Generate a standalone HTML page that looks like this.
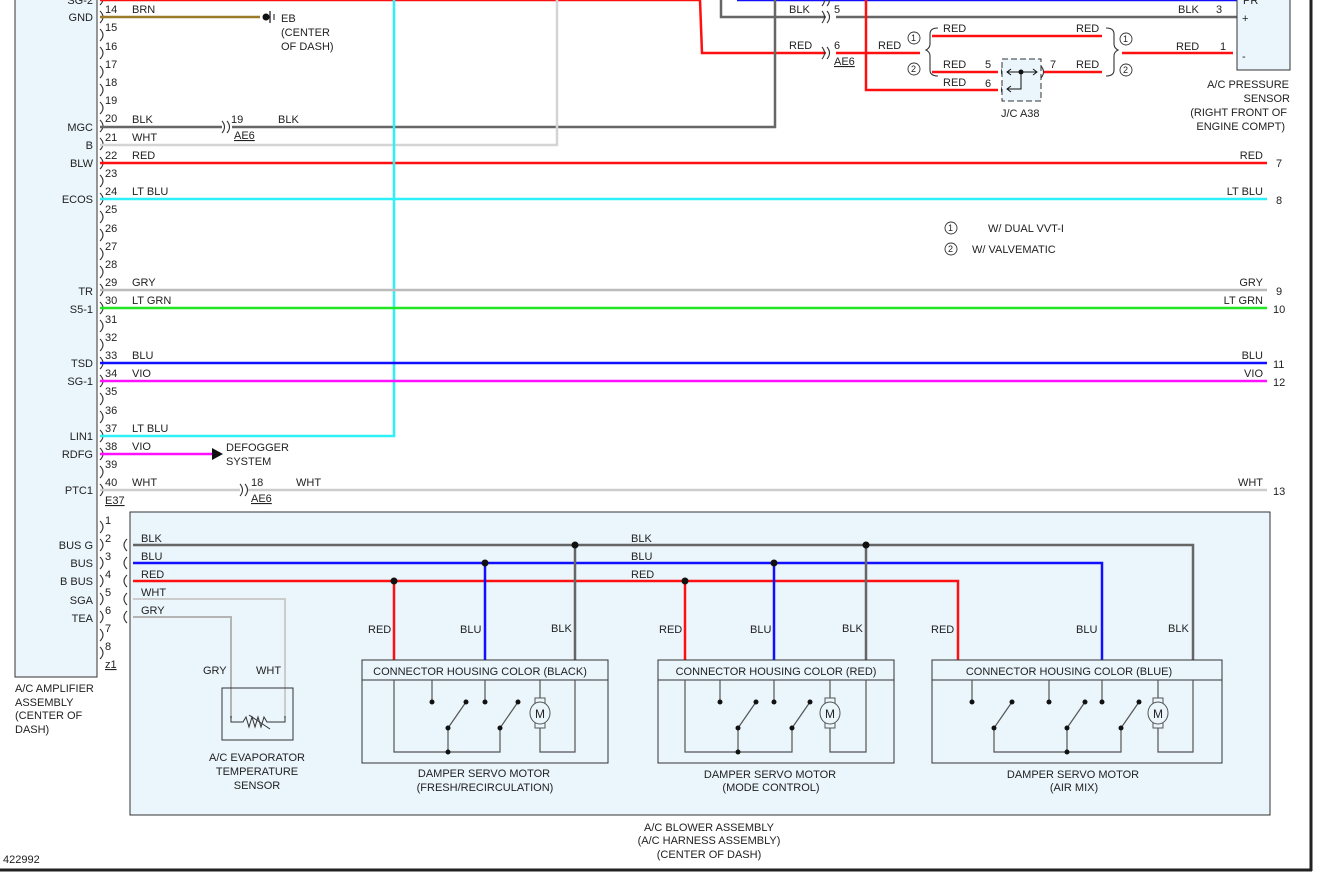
<!DOCTYPE html>
<html><head><meta charset="utf-8"><style>
html,body{margin:0;padding:0;background:#fff;width:1319px;height:873px;overflow:hidden}
svg{display:block}
text{font-family:"Liberation Sans",Arial,sans-serif;font-size:11px;fill:#222}
</style></head><body>
<svg width="1319" height="873" viewBox="0 0 1319 873" xmlns="http://www.w3.org/2000/svg">
<line x1="1311" y1="0" x2="1311" y2="871" stroke="#222" stroke-width="3"/>
<line x1="0" y1="870" x2="1312" y2="870" stroke="#222" stroke-width="3"/>

<rect x="15" y="-2" width="82" height="679" fill="#eaf5fc" stroke="#333" stroke-width="1"/>
<text x="15" y="692">A/C AMPLIFIER</text>
<text x="15" y="706">ASSEMBLY</text>
<text x="15" y="719">(CENTER OF</text>
<text x="15" y="733">DASH)</text>

<rect x="130" y="512" width="1140" height="303" fill="#eaf5fc" stroke="#333" stroke-width="1"/>

<g fill="none" stroke="#333" stroke-width="1.1">
<path d="M100,11q6,6 0,12M100,29q6,6 0,12M100,47q6,6 0,12M100,66q6,6 0,12M100,84q6,6 0,12M100,102q6,6 0,12M100,120q6,6 0,12M100,138q6,6 0,12M100,157q6,6 0,12M100,175q6,6 0,12M100,193q6,6 0,12M100,211q6,6 0,12M100,229q6,6 0,12M100,248q6,6 0,12M100,266q6,6 0,12M100,284q6,6 0,12M100,302q6,6 0,12M100,320q6,6 0,12M100,339q6,6 0,12M100,357q6,6 0,12M100,375q6,6 0,12M100,393q6,6 0,12M100,411q6,6 0,12M100,430q6,6 0,12M100,448q6,6 0,12M100,466q6,6 0,12M100,484q6,6 0,12M100,-7q6,6 0,12"/>
<path d="M100,521q6,6 0,12M100,539q6,6 0,12M100,557q6,6 0,12M100,575q6,6 0,12M100,593q6,6 0,12M100,611q6,6 0,12M100,629q6,6 0,12M100,647q6,6 0,12"/>
<path d="M127,539q-6,6 0,12M127,557q-6,6 0,12M127,575q-6,6 0,12M127,593q-6,6 0,12M127,611q-6,6 0,12"/>
</g>
<g text-anchor="start">
<text x="105" y="13">14</text><text x="105" y="31">15</text><text x="105" y="50">16</text><text x="105" y="68">17</text><text x="105" y="86">18</text><text x="105" y="104">19</text><text x="105" y="122">20</text><text x="105" y="141">21</text><text x="105" y="159">22</text><text x="105" y="177">23</text><text x="105" y="195">24</text><text x="105" y="213">25</text><text x="105" y="232">26</text><text x="105" y="250">27</text><text x="105" y="268">28</text><text x="105" y="286">29</text><text x="105" y="304">30</text><text x="105" y="323">31</text><text x="105" y="341">32</text><text x="105" y="359">33</text><text x="105" y="377">34</text><text x="105" y="395">35</text><text x="105" y="414">36</text><text x="105" y="432">37</text><text x="105" y="450">38</text><text x="105" y="468">39</text><text x="105" y="486">40</text>
<text x="105" y="524">1</text><text x="105" y="542">2</text><text x="105" y="560">3</text><text x="105" y="578">4</text><text x="105" y="596">5</text><text x="105" y="614">6</text><text x="105" y="632">7</text><text x="105" y="650">8</text><text x="105" y="668" text-decoration="underline">z1</text>
<text x="105" y="504" text-decoration="underline">E37</text>
</g>
<g text-anchor="end">
<text x="93" y="4">SG-2</text><text x="93" y="21">GND</text><text x="93" y="131">MGC</text><text x="93" y="149">B</text><text x="93" y="167">BLW</text><text x="93" y="203">ECOS</text><text x="93" y="295">TR</text><text x="93" y="313">S5-1</text><text x="93" y="367">TSD</text><text x="93" y="385">SG-1</text><text x="93" y="440">LIN1</text><text x="93" y="458">RDFG</text><text x="93" y="494">PTC1</text>
<text x="93" y="549">BUS G</text><text x="93" y="567">BUS</text><text x="93" y="585">B BUS</text><text x="93" y="604">SGA</text><text x="93" y="622">TEA</text>
</g>

<g fill="none" stroke-width="2.5">
<line x1="100" y1="0" x2="700" y2="0" stroke="#ff1010"/>
<polyline points="700,0 702,53 826,53" stroke="#ff1010"/>
<line x1="836" y1="53" x2="920" y2="53" stroke="#ff1010"/>
<line x1="737" y1="0" x2="1237" y2="0" stroke="#1010ff"/>
<polyline points="721,0 721,17 826,17" stroke="#666"/>
<line x1="836" y1="17" x2="1237" y2="17" stroke="#666"/>
<polyline points="866,0 866,90 998,90" stroke="#ff1010"/>
<line x1="932" y1="36" x2="1102" y2="36" stroke="#ff1010"/>
<line x1="932" y1="72" x2="998" y2="72" stroke="#ff1010"/>
<line x1="1044" y1="72" x2="1102" y2="72" stroke="#ff1010"/>
<line x1="1122" y1="53" x2="1233" y2="53" stroke="#ff1010"/>
<line x1="100" y1="17" x2="260" y2="17" stroke="#9b7a2a"/>
<line x1="100" y1="127" x2="222" y2="127" stroke="#666"/>
<polyline points="232,127 775,127 775,0" stroke="#666"/>
<polyline points="100,145 557,145 557,0" stroke="#d4d4d4"/>
<line x1="100" y1="163" x2="1267" y2="163" stroke="#ff1010"/>
<line x1="100" y1="199" x2="1267" y2="199" stroke="#2ef0f8"/>
<polyline points="100,436 394,436 394,0" stroke="#2ef0f8"/>
<line x1="100" y1="290" x2="1267" y2="290" stroke="#bbb"/>
<line x1="100" y1="308" x2="1267" y2="308" stroke="#22e622"/>
<line x1="100" y1="363" x2="1267" y2="363" stroke="#1010ff"/>
<line x1="100" y1="381" x2="1267" y2="381" stroke="#ff10ff"/>
<line x1="100" y1="454" x2="212" y2="454" stroke="#ff10ff"/>
<line x1="100" y1="490" x2="240" y2="490" stroke="#ccc"/>
<line x1="248" y1="490" x2="1267" y2="490" stroke="#ccc"/>
</g>
<polygon points="212,448 223,454 212,460" fill="#111"/>
<text x="226" y="451">DEFOGGER</text><text x="226" y="465">SYSTEM</text>
<circle cx="266" cy="17" r="3.5" fill="#111"/>
<line x1="270" y1="11" x2="270" y2="23" stroke="#111" stroke-width="1.2"/>
<line x1="274" y1="14" x2="274" y2="20" stroke="#111" stroke-width="1"/>
<text x="281" y="22">EB</text><text x="281" y="36">(CENTER</text><text x="281" y="50">OF DASH)</text>

<g fill="none" stroke="#333" stroke-width="1.1">
<path d="M222,121q5,6 0,12M227,121q5,6 0,12"/>
<path d="M240,484q5,6 0,12M245,484q5,6 0,12"/>
<path d="M822,-6q5,6 0,12M827,-6q5,6 0,12"/>
<path d="M822,11q5,6 0,12M827,11q5,6 0,12"/>
<path d="M822,47q5,6 0,12M827,47q5,6 0,12"/>
<path d="M1244,11q-5,6 0,12M1244,47q-5,6 0,12M1244,-6q-5,6 0,12"/>
<path d="M1004,66q-5,6 0,12M1004,84q-5,6 0,12M1041,66q5,6 0,12"/>
<path d="M938,28q-8,0 -8,6v10q0,4 -4,6q4,2 4,6v14q0,6 8,6"/>
<path d="M1106,28q8,0 8,6v10q0,4 4,6q-4,2 -4,6v14q0,6 -8,6"/>
</g>
<text x="132" y="13">BRN</text><text x="132" y="123">BLK</text><text x="231" y="123">19</text><text x="278" y="123">BLK</text><text x="234" y="139" text-decoration="underline">AE6</text>
<text x="132" y="141">WHT</text><text x="132" y="159">RED</text><text x="132" y="195">LT BLU</text><text x="132" y="286">GRY</text><text x="132" y="304">LT GRN</text><text x="132" y="359">BLU</text><text x="132" y="377">VIO</text><text x="132" y="432">LT BLU</text><text x="132" y="450">VIO</text><text x="132" y="486">WHT</text>
<text x="251" y="486">18</text><text x="296" y="486">WHT</text><text x="251" y="502" text-decoration="underline">AE6</text>
<g text-anchor="end">
<text x="1263" y="159">RED</text><text x="1263" y="195">LT BLU</text><text x="1263" y="286">GRY</text><text x="1263" y="304">LT GRN</text><text x="1263" y="359">BLU</text><text x="1263" y="377">VIO</text><text x="1263" y="486">WHT</text>
</g>
<text x="1276" y="167">7</text><text x="1276" y="204">8</text><text x="1276" y="295">9</text><text x="1273" y="313">10</text><text x="1273" y="368">11</text><text x="1273" y="386">12</text><text x="1273" y="495">13</text>

<text x="789" y="13">BLK</text><text x="834" y="13">5</text><text x="1178" y="13">BLK</text><text x="1216" y="13">3</text>
<text x="789" y="49">RED</text><text x="834" y="49">6</text><text x="878" y="49">RED</text><text x="834" y="65" text-decoration="underline">AE6</text>
<text x="943" y="32">RED</text><text x="1076" y="32">RED</text><text x="943" y="68">RED</text><text x="1076" y="68">RED</text><text x="943" y="86">RED</text>
<text x="985" y="68">5</text><text x="985" y="87">6</text><text x="1050" y="68">7</text>
<text x="1176" y="50">RED</text><text x="1220" y="50">1</text>
<g fill="none" stroke="#333" stroke-width="0.9">
<circle cx="914" cy="38" r="6"/><circle cx="914" cy="69" r="6"/><circle cx="1126" cy="39" r="6"/><circle cx="1126" cy="70" r="6"/>
<circle cx="951" cy="228" r="6"/><circle cx="951" cy="249" r="6"/>
</g>
<g><text x="911" y="41" style="font-size:9px">1</text><text x="911" y="72" style="font-size:9px">2</text><text x="1123" y="42" style="font-size:9px">1</text><text x="1123" y="73" style="font-size:9px">2</text><text x="948" y="231" style="font-size:9px">1</text><text x="948" y="252" style="font-size:9px">2</text></g>
<text x="988" y="232">W/ DUAL VVT-I</text><text x="972" y="253">W/ VALVEMATIC</text>
<rect x="1002" y="59" width="39" height="42" fill="#eaf5fc" stroke="#333" stroke-dasharray="6,3"/>
<g stroke="#111" stroke-width="1" fill="none"><line x1="1007" y1="72" x2="1037" y2="72"/><polyline points="1021,72 1021,89 1007,89"/><path d="M1011,69l-4,3 4,3M1033,69l4,3-4,3M1011,86l-4,3 4,3"/></g>
<circle cx="1021" cy="72" r="2.5" fill="#111"/>
<text x="1001" y="117">J/C A38</text>
<rect x="1237" y="-2" width="53" height="72" fill="#eaf5fc" stroke="#333"/>
<text x="1243" y="4">PR</text><text x="1242" y="22">+</text><text x="1242" y="60">-</text>
<g text-anchor="end"><text x="1289" y="88">A/C PRESSURE</text><text x="1290" y="102">SENSOR</text><text x="1287" y="116">(RIGHT FRONT OF</text><text x="1285" y="130">ENGINE COMPT)</text></g>

<g fill="none" stroke-width="2.5">
<polyline points="133,545 1193,545 1193,660" stroke="#666"/>
<polyline points="133,563 1102,563 1102,660" stroke="#1010ff"/>
<polyline points="133,581 958,581 958,660" stroke="#ff1010"/>
<line x1="575" y1="545" x2="575" y2="660" stroke="#666"/><line x1="866" y1="545" x2="866" y2="660" stroke="#666"/>
<line x1="485" y1="563" x2="485" y2="660" stroke="#1010ff"/><line x1="774" y1="563" x2="774" y2="660" stroke="#1010ff"/>
<line x1="394" y1="581" x2="394" y2="660" stroke="#ff1010"/><line x1="685" y1="581" x2="685" y2="660" stroke="#ff1010"/>
</g>
<g fill="none" stroke-width="2">
<polyline points="133,599 285,599 285,718" stroke="#ccc"/>
<polyline points="133,617 231,617 231,718" stroke="#b4b4b4"/>
</g>
<g fill="#111"><circle cx="575" cy="545" r="3.5"/><circle cx="866" cy="545" r="3.5"/><circle cx="485" cy="563" r="3.5"/><circle cx="774" cy="563" r="3.5"/><circle cx="394" cy="581" r="3.5"/><circle cx="685" cy="581" r="3.5"/></g>
<text x="141" y="542">BLK</text><text x="141" y="560">BLU</text><text x="141" y="578">RED</text><text x="141" y="596">WHT</text><text x="141" y="614">GRY</text>
<text x="631" y="542">BLK</text><text x="631" y="560">BLU</text><text x="631" y="578">RED</text>
<text x="368" y="633">RED</text><text x="460" y="633">BLU</text><text x="551" y="632">BLK</text>
<text x="659" y="633">RED</text><text x="750" y="633">BLU</text><text x="842" y="632">BLK</text>
<text x="931" y="633">RED</text><text x="1076" y="633">BLU</text><text x="1168" y="632">BLK</text>
<text x="203" y="674">GRY</text><text x="256" y="674">WHT</text>

<rect x="222" y="688" width="71" height="52" fill="none" stroke="#333"/>
<polyline points="231,716 231,722 243,722 246,717 249,727 252,717 255,727 258,717 261,727 264,717 267,722 285,722 285,716" fill="none" stroke="#333"/>
<line x1="249" y1="715" x2="270" y2="729" stroke="#333"/>
<g text-anchor="middle"><text x="257" y="761">A/C EVAPORATOR</text><text x="257" y="775">TEMPERATURE</text><text x="257" y="789">SENSOR</text></g>

<g fill="none" stroke="#333" stroke-width="1">
<rect x="362" y="660" width="246" height="103"/><line x1="362" y1="680" x2="608" y2="680"/>
<rect x="658" y="660" width="236" height="103"/><line x1="658" y1="680" x2="894" y2="680"/>
<rect x="932" y="660" width="290" height="103"/><line x1="932" y1="680" x2="1222" y2="680"/>
</g>
<g fill="none" stroke="#555" stroke-width="1.2">
<polyline points="394,680 394,752 500,752 500,728"/><line x1="448" y1="728" x2="448" y2="752"/>
<line x1="448" y1="728" x2="466" y2="702"/><line x1="500" y1="728" x2="518" y2="702"/>
<line x1="432" y1="680" x2="432" y2="702"/><line x1="485" y1="680" x2="485" y2="702"/>
<polyline points="540,680 540,752 575,752 575,680"/>
<polyline points="685,680 685,752 792,752 792,728"/><line x1="738" y1="728" x2="738" y2="752"/>
<line x1="738" y1="728" x2="756" y2="702"/><line x1="792" y1="728" x2="810" y2="702"/>
<line x1="720" y1="680" x2="720" y2="702"/><line x1="774" y1="680" x2="774" y2="702"/>
<polyline points="830,680 830,752 866,752 866,680"/>
<polyline points="994,728 994,752 1121,752 1121,728"/><line x1="1067" y1="728" x2="1067" y2="752"/>
<line x1="994" y1="728" x2="1012" y2="702"/><line x1="1067" y1="728" x2="1085" y2="702"/><line x1="1121" y1="728" x2="1139" y2="702"/>
<line x1="972" y1="680" x2="972" y2="702"/><line x1="1049" y1="680" x2="1049" y2="702"/><line x1="1102" y1="680" x2="1102" y2="702"/>
<polyline points="1158,680 1158,752 1193,752 1193,680"/>
</g>
<g fill="#111">
<circle cx="432" cy="702" r="2.5"/><circle cx="466" cy="702" r="2.5"/><circle cx="485" cy="702" r="2.5"/><circle cx="518" cy="702" r="2.5"/><circle cx="448" cy="728" r="2.5"/><circle cx="500" cy="728" r="2.5"/><circle cx="448" cy="752" r="2.5"/>
<circle cx="720" cy="702" r="2.5"/><circle cx="756" cy="702" r="2.5"/><circle cx="774" cy="702" r="2.5"/><circle cx="810" cy="702" r="2.5"/><circle cx="738" cy="728" r="2.5"/><circle cx="792" cy="728" r="2.5"/><circle cx="738" cy="752" r="2.5"/>
<circle cx="972" cy="702" r="2.5"/><circle cx="1012" cy="702" r="2.5"/><circle cx="1049" cy="702" r="2.5"/><circle cx="1085" cy="702" r="2.5"/><circle cx="1102" cy="702" r="2.5"/><circle cx="1139" cy="702" r="2.5"/><circle cx="994" cy="728" r="2.5"/><circle cx="1067" cy="728" r="2.5"/><circle cx="1121" cy="728" r="2.5"/><circle cx="1067" cy="752" r="2.5"/>
</g>
<g fill="#eaf5fc" stroke="#555" stroke-width="1">
<rect x="535" y="698" width="10" height="30"/><ellipse cx="540" cy="713" rx="10" ry="11"/>
<rect x="825" y="698" width="10" height="30"/><ellipse cx="830" cy="713" rx="10" ry="11"/>
<rect x="1153" y="698" width="10" height="30"/><ellipse cx="1158" cy="713" rx="10" ry="11"/>
</g>
<g text-anchor="middle">
<text x="540" y="718" style="font-size:12px">M</text><text x="830" y="718" style="font-size:12px">M</text><text x="1158" y="718" style="font-size:12px">M</text>
<text x="480" y="675">CONNECTOR HOUSING COLOR (BLACK)</text>
<text x="776" y="675">CONNECTOR HOUSING COLOR (RED)</text>
<text x="1069" y="675">CONNECTOR HOUSING COLOR (BLUE)</text>
<text x="484" y="777">DAMPER SERVO MOTOR</text><text x="485" y="791">(FRESH/RECIRCULATION)</text>
<text x="770" y="778">DAMPER SERVO MOTOR</text><text x="771" y="791">(MODE CONTROL)</text>
<text x="1073" y="778">DAMPER SERVO MOTOR</text><text x="1074" y="791">(AIR MIX)</text>
<text x="709" y="831">A/C BLOWER ASSEMBLY</text><text x="709" y="844">(A/C HARNESS ASSEMBLY)</text><text x="709" y="858">(CENTER OF DASH)</text>
</g>
<text x="3" y="863">422992</text>
</svg>
</body></html>
